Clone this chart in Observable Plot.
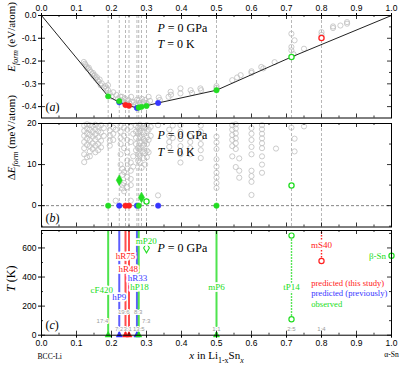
<!DOCTYPE html>
<html>
<head>
<meta charset="utf-8">
<script src="https://cdn.jsdelivr.net/npm/d3@7"></script>
<script src="https://cdn.jsdelivr.net/npm/@observablehq/plot@0.6"></script>
<style>
  html, body { margin: 0; padding: 0; background: #fff; }
  #chart { position: relative; width: 399px; height: 366px; overflow: hidden; background:#fff; }
  #chart svg { position: absolute; left: 0; top: 0; }
</style>
</head>
<body>
<div id="chart"></div>
<script>
// ---------------- data ----------------
const xTicks = [0, 0.1, 0.2, 0.3, 0.4, 0.5, 0.6, 0.7, 0.8, 0.9, 1.0];
const xMinor = [0.05, 0.15, 0.25, 0.35, 0.45, 0.55, 0.65, 0.75, 0.85, 0.95];
const aTicks = [0, -0.1, -0.2, -0.3, -0.4];
const aMinor = [-0.05, -0.15, -0.25, -0.35];
const bTicks = [0, 10, 20];
const bMinor = [-5, 5, 15];
const cTicks = [0, 200, 400, 600];
const cMinor = [100, 300, 500, 700];

// compositions with dashed guide lines (x in Li1-xSnx)
const compX = [0.1905, 0.2222, 0.24, 0.25, 0.2727, 0.2778, 0.2857, 0.3, 0.5, 0.7143, 0.8];

// convex hull, panel (a)
const hullX = [0, 0.1905, 0.2222, 0.24, 0.25, 0.2727, 0.3333, 0.5, 0.7143, 1.0];
const hullE = [0, -0.355, -0.381, -0.393, -0.396, -0.406, -0.384, -0.328, -0.182, 0];

// coloured structures, panel (a)
const aMarkX = [0.1905, 0.2222, 0.2222, 0.24, 0.25, 0.2727, 0.2778, 0.2857, 0.3, 0.3333, 0.5, 0.7143, 0.8];
const aMarkE = [-0.355, -0.376, -0.381, -0.393, -0.396, -0.406, -0.404, -0.401, -0.397, -0.384, -0.328, -0.182, -0.099];
const aMarkSrc = ["obs", "obs", "prev", "this", "this", "prev", "obs", "obs", "obs", "prev", "obs", "obs", "this"];
const aMarkOpen = [false, false, false, false, false, false, false, false, false, false, false, true, true];

// other sampled structures, panel (a): [x, E]
const greyA = [
  [0.121,-0.204],[0.124,-0.212],[0.126,-0.218],[0.129,-0.226],[0.132,-0.233],[0.135,-0.229],[0.138,-0.240],
  [0.141,-0.248],[0.145,-0.258],[0.147,-0.252],[0.149,-0.266],[0.152,-0.262],[0.155,-0.276],[0.158,-0.271],
  [0.160,-0.284],[0.163,-0.290],[0.166,-0.281],[0.169,-0.306],[0.172,-0.298],[0.178,-0.316],[0.182,-0.310],
  [0.185,-0.320],[0.190,-0.306],[0.190,-0.328],[0.195,-0.342],[0.200,-0.356],[0.205,-0.337],[0.214,-0.349],
  [0.219,-0.364],[0.225,-0.356],[0.229,-0.372],[0.230,-0.357],[0.235,-0.380],[0.238,-0.364],[0.242,-0.386],
  [0.245,-0.375],[0.248,-0.371],[0.252,-0.387],[0.256,-0.357],[0.258,-0.380],[0.264,-0.380],[0.268,-0.392],
  [0.273,-0.370],[0.275,-0.395],[0.278,-0.373],[0.282,-0.384],[0.287,-0.366],[0.290,-0.380],[0.296,-0.371],
  [0.300,-0.383],[0.306,-0.357],[0.310,-0.375],[0.335,-0.360],[0.338,-0.371],[0.363,-0.357],[0.369,-0.335],
  [0.370,-0.348],[0.397,-0.320],[0.397,-0.342],[0.426,-0.328],[0.430,-0.340],[0.454,-0.320],[0.456,-0.328],
  [0.500,-0.310],[0.500,-0.318],[0.545,-0.284],[0.559,-0.272],[0.569,-0.262],[0.600,-0.252],[0.600,-0.245],
  [0.628,-0.226],[0.634,-0.232],[0.666,-0.205],[0.714,-0.153],[0.714,-0.138],[0.714,-0.080],[0.723,-0.109],
  [0.720,-0.170],[0.750,-0.146],[0.800,-0.073],[0.800,-0.085],[0.833,-0.048],[0.833,-0.055],[0.854,-0.044],
  [0.873,-0.029],[0.873,-0.036]
];

// coloured structures, panel (b)
const bMarkX = [0.1905, 0.2222, 0.24, 0.25, 0.2727, 0.2778, 0.3333, 0.5, 0.2222, 0.2857, 0.3, 0.7143];
const bMarkD = [0, 0, 0, 0, 0, 0, 0, 0, 6.2, 2.0, 1.0, 4.9];
const bMarkSrc = ["obs", "prev", "this", "this", "prev", "obs", "prev", "obs", "obs", "obs", "obs", "obs"];
const bMarkShape = ["dot", "dot", "dot", "dot", "dot", "dot", "dot", "dot", "diamond", "diamond", "open", "open"];

// other sampled structures, panel (b): [x, [dE values in meV/atom]]
const greyB = [
  [0.122,[19.5,18.2,17.0,15.5,14.0,12.5,10.6]],
  [0.130,[19.8,18.8,17.6,16.3,14.8,11.8]],
  [0.138,[19.6,18.5,17.3,16.0,14.5,13.2,12.0]],
  [0.146,[19.4,18.0,16.8,15.2,13.8]],
  [0.154,[19.7,18.6,17.4,16.1,14.6,13.0]],
  [0.162,[19.2,18.1,16.6,15.0,13.5]],
  [0.170,[19.6,17.8,15.8,14.2]],
  [0.178,[18.9,17.0]],
  [0.195,[19.6,18.3,17.1,15.8,14.6]],
  [0.205,[19.0,17.5,16.0]],
  [0.212,[18.5,1.2]],
  [0.226,[19.5,18.0,16.5,15.0,12.5,10.0]],
  [0.231,[9.0,7.5,5.0,4.2]],
  [0.236,[19.0,17.0,14.0,8.2,5.5,3.5]],
  [0.245,[18.5,16.0,13.0,11.0,9.0,7.0,4.5]],
  [0.255,[19.2,15.5,10.5,8.5,6.5,5.0,1.2]],
  [0.262,[17.5,12.0,9.5]],
  [0.270,[19.5,18.0,16.5,15.0,13.5]],
  [0.276,[19.0,17.5,14.0,12.5,11.0]],
  [0.281,[19.7,18.2,16.8,15.3,13.8,12.2,10.5]],
  [0.286,[18.8,17.2,15.6,14.1,9.2]],
  [0.291,[19.4,17.9,16.3,14.8,13.2,11.6]],
  [0.296,[19.0,15.8,12.8,10.0]],
  [0.301,[19.6,18.1,16.6,15.0,13.4,11.8]],
  [0.306,[18.5,16.0,13.0]],
  [0.312,[19.2,17.0]],
  [0.333,[19.6,2.5]],
  [0.365,[18.5,17.0,15.5,14.3]],
  [0.375,[19.5,16.5]],
  [0.397,[19.6,18.0,16.2,14.5,12.5,10.5]],
  [0.425,[17.0,15.5,14.0,12.5]],
  [0.455,[19.5,18.0,16.5,15.0,13.5,11.6]],
  [0.500,[16.8,15.4,13.8,11.3,9.5,8.0,6.8,5.5,4.3]],
  [0.545,[19.6,18.5,17.2,16.0,14.5,12.0]],
  [0.555,[19.8,18.8,17.6,16.4,15.2,13.8,9.4]],
  [0.565,[11.5,8.5,6.8]],
  [0.600,[18.9,17.5,16.0,14.3,12.5,8.5,7.2,5.8,2.6]],
  [0.630,[19.6,18.6,17.5,16.4,15.2,14.0,12.0,10.0,8.0]],
  [0.670,[13.9]],
  [0.714,[19.0]],
  [0.723,[16.3,13.2]],
  [0.750,[19.3]]
];

// panel (c): stability lines
const cLineX = [0.1905, 0.2222, 0.24, 0.25, 0.2727, 0.2778, 0.5];
const cLineSrc = ["obs", "prev", "this", "this", "prev", "obs", "obs"];
// dotted ranges: [x, Tlow, Thigh]
const cRangeX = [0.7143, 0.8];
const cRangeLo = [110, 510];
const cRangeHi = [685, 720];
const cRangeSrc = ["obs", "this"];
// open symbols in (c)
const cOpenX = [0.7143, 0.7143, 0.8, 1.0];
const cOpenT = [110, 685, 510, 546];
const cOpenSrc = ["obs", "obs", "this", "obs"];
const cDiamondX = [0.3];
const cDiamondT = [600];
// phase labels
const cLabel = ["cF420", "hP9", "hR75", "hR48", "hR33", "hP18", "mP6", "tP14", "mS40", "mP20", "β-Sn"];
const cLabelX = [0.172, 0.2222, 0.24, 0.2477, 0.274, 0.28, 0.5, 0.7143, 0.8, 0.299, 0.96];
const cLabelT = [311, 265, 546, 455, 393, 329, 329, 329, 621, 650, 546];
const cLabelSrc = ["obs", "prev", "this", "this", "prev", "obs", "obs", "obs", "this", "obs", "obs"];
// composition ratio labels
const ratioText = ["17:4", "7:2", "19:6", "3:1", "8:3", "13:5", "7:3", "1:1", "2:5", "1:4"];
const ratioX = [0.174, 0.222, 0.235, 0.246, 0.276, 0.278, 0.299, 0.5, 0.714, 0.8];
const ratioT = [96, 39, 160, 39, 160, 39, 96, 39, 39, 39];
// ground-state markers at T = 0
const cBaseX = [0.1905, 0.2222, 0.24, 0.25, 0.2727, 0.2778, 0.5];
const cBaseSrc = ["obs", "prev", "this", "this", "prev", "obs", "obs"];
// legend
const legendText = ["predicted (this study)", "predicted (previously)", "observed"];
const legendSrc = ["this", "prev", "obs"];

// ---------------- style ----------------
const W = 399, H = 366, ML = 41, MR = 8, FW = W - ML - MR;
const SERIF = "'Liberation Serif','Times New Roman',serif";
const SANS = "'Liberation Sans',Arial,sans-serif";
const COL = {this: "#ff2020", prev: "#3535ff", obs: "#22dd22"};
const SRCS = ["this", "prev", "obs"];

function inwardTicks(ph, xMaj, xMin, yMaj, yMin) {
  const st = {stroke: "black", strokeWidth: 0.8};
  const tx = (v, len, side) => Plot.tickX(v, {x: d => d, ...st, [side === "top" ? "insetBottom" : "insetTop"]: ph - len});
  const ty = (v, len, side) => Plot.tickY(v, {y: d => d, ...st, [side === "left" ? "insetRight" : "insetLeft"]: FW - len});
  return [
    tx(xMaj, 4, "top"), tx(xMin, 2, "top"), tx(xMaj, 4, "bottom"), tx(xMin, 2, "bottom"),
    ty(yMaj, 4, "left"), ty(yMin, 2, "left"), ty(yMaj, 4, "right"), ty(yMin, 2, "right")
  ];
}

function panel(top, bottom, yDomain, marks) {
  return Plot.plot({
    width: W, height: H,
    marginLeft: ML, marginRight: MR, marginTop: top, marginBottom: H - bottom,
    x: {domain: [0, 1], axis: null},
    y: {domain: yDomain, axis: null},
    style: {background: "transparent", overflow: "visible", fontFamily: SANS, fontSize: "8.5px", color: "black"},
    marks
  });
}

const condText = (lines, dys) => lines.map((t, i) => Plot.text([t], {
  frameAnchor: "top-left", dx: 116, dy: dys[i], textAnchor: "start", lineAnchor: "middle",
  fontFamily: SERIF, fontSize: 12, fill: "black"
}));
const panelTag = (t, dy) => Plot.text([t], {
  frameAnchor: "bottom-left", dx: 4, dy, textAnchor: "start", lineAnchor: "middle",
  fontFamily: SERIF, fontSize: 12, fill: "black"
});
const yTitle = (t, dy, fs) => Plot.text([t], {
  frameAnchor: "left", dx: -30, dy, rotate: -90, lineAnchor: "middle",
  fontFamily: SERIF, fontSize: fs, fill: "black"
});
const guides = Plot.ruleX(compX, {x: d => d, stroke: "#9a9a9a", strokeWidth: 0.7, strokeDasharray: "3,2"});

// ---------------- panel (a) ----------------
const aPts = aMarkX.map((x, i) => ({x, y: aMarkE[i], src: aMarkSrc[i], open: aMarkOpen[i]}));
const hull = hullX.map((x, i) => ({x, y: hullE[i]}));
const plotA = panel(15, 117.5, [-0.45, 0], [
  guides,
  Plot.dot(greyA, {x: d => d[0], y: d => d[1], r: 2.6, stroke: "#bfbfbf", strokeWidth: 0.8}),
  Plot.line(hull, {x: "x", y: "y", stroke: "#222", strokeWidth: 1}),
  ...SRCS.map(s => Plot.dot(aPts.filter(d => d.src === s && !d.open), {x: "x", y: "y", r: 2.7, fill: COL[s], stroke: COL[s], strokeWidth: 0.6})),
  ...SRCS.map(s => Plot.dot(aPts.filter(d => d.src === s && d.open), {x: "x", y: "y", r: 2.6, fill: "white", stroke: COL[s], strokeWidth: 1.3})),
  ...condText(["P = 0 GPa", "T = 0 K"], [13, 29]),
  panelTag("(a)", -11),
  yTitle("Eform (eV/atom)", 5, 11),
  ...inwardTicks(102.5, xTicks, xMinor, aTicks, aMinor),
  Plot.axisX({anchor: "top", ticks: xTicks, tickSize: 3, tickPadding: 1.5, tickFormat: d => d.toFixed(1), label: null}),
  Plot.axisY({anchor: "left", ticks: aTicks, tickSize: 3, tickPadding: 2, tickFormat: d => d.toFixed(1), label: null}),
  Plot.frame({stroke: "black", strokeWidth: 1})
]);

// ---------------- panel (b) ----------------
const bGrey = greyB.flatMap(([x, vals]) => vals.map(v => ({x, y: v})));
const bPts = bMarkX.map((x, i) => ({x, y: bMarkD[i], src: bMarkSrc[i], shape: bMarkShape[i]}));
const plotB = panel(123, 226.5, [-5.2, 20], [
  guides,
  Plot.ruleY([0], {y: d => d, stroke: "#666", strokeWidth: 0.8, strokeDasharray: "3,2"}),
  Plot.dot(bGrey, {x: "x", y: "y", r: 2.6, stroke: "#bfbfbf", strokeWidth: 0.8}),
  ...SRCS.map(s => Plot.dot(bPts.filter(d => d.src === s && d.shape === "dot"), {x: "x", y: "y", r: 2.7, fill: COL[s], stroke: COL[s], strokeWidth: 0.6})),
  Plot.dot(bPts.filter(d => d.shape === "diamond"), {x: "x", y: "y", r: 3.2, symbol: "diamond", fill: COL.obs, stroke: COL.obs, strokeWidth: 0.6}),
  Plot.dot(bPts.filter(d => d.shape === "open"), {x: "x", y: "y", r: 2.6, fill: "white", stroke: COL.obs, strokeWidth: 1.3}),
  ...condText(["P = 0 GPa", "T = 0 K"], [12, 29]),
  panelTag("(b)", -9),
  yTitle("ΔEform (meV/atom)", 5, 11),
  ...inwardTicks(103.5, xTicks, xMinor, bTicks, bMinor),
  Plot.axisY({anchor: "left", ticks: bTicks, tickSize: 3, tickPadding: 2, tickFormat: d => String(d), label: null}),
  Plot.frame({stroke: "black", strokeWidth: 1})
]);

// ---------------- panel (c) ----------------
const cLines = cLineX.map((x, i) => ({x, src: cLineSrc[i]}));
const cRanges = cRangeX.map((x, i) => ({x, y1: cRangeLo[i], y2: cRangeHi[i], src: cRangeSrc[i]}));
const cOpen = cOpenX.map((x, i) => ({x, y: cOpenT[i], src: cOpenSrc[i]}));
const cLab = cLabel.map((t, i) => ({t, x: cLabelX[i], y: cLabelT[i], src: cLabelSrc[i]}));
const cRatio = ratioText.map((t, i) => ({t, x: ratioX[i], y: ratioT[i]}));
const cBase = cBaseX.map((x, i) => ({x, src: cBaseSrc[i]}));
const plotC = panel(230, 334.7, [0, 720], [
  ...SRCS.map(s => Plot.ruleX(cLines.filter(d => d.src === s), {x: "x", stroke: COL[s], strokeWidth: 2, strokeOpacity: 0.8})),
  ...SRCS.map(s => Plot.ruleX(cRanges.filter(d => d.src === s), {x: "x", y1: "y1", y2: "y2", stroke: COL[s], strokeWidth: 1.4, strokeDasharray: "1.5,1.5"})),
  ...SRCS.map(s => Plot.dot(cOpen.filter(d => d.src === s), {x: "x", y: "y", r: 2.6, fill: "white", stroke: COL[s], strokeWidth: 1.2})),
  Plot.dot(cDiamondX.map((x, i) => ({x, y: cDiamondT[i]})), {x: "x", y: "y", r: 3, symbol: "diamond", fill: "white", stroke: COL.obs, strokeWidth: 1.1}),
  Plot.text(cRatio, {x: "x", y: "y", text: "t", fill: "#9a9a9a", stroke: "white", strokeWidth: 2, fontFamily: SANS, fontSize: 6, lineAnchor: "middle"}),
  ...SRCS.map(s => Plot.text(cLab.filter(d => d.src === s), {x: "x", y: "y", text: "t", fill: COL[s], stroke: "white", strokeWidth: 3.5, fontFamily: SERIF, fontSize: 9, lineAnchor: "middle"})),
  ...SRCS.map(s => Plot.dot(cBase.filter(d => d.src === s), {x: "x", y: () => 0, r: 2.3, symbol: "triangle", fill: COL[s], stroke: COL[s], strokeWidth: 0.5})),
  ...legendText.map((t, i) => Plot.text([t], {
    frameAnchor: "top-left", dx: 269.7, dy: 52.7 + i * 10.5, textAnchor: "start", lineAnchor: "middle",
    fontFamily: SERIF, fontSize: 8.6, fill: COL[legendSrc[i]]
  })),
  ...condText(["P = 0 GPa"], [18]),
  panelTag("(c)", -10),
  yTitle("T (K)", 9, 12),
  Plot.text(["x in Li1-xSnx"], {frameAnchor: "bottom", dy: 20.5, lineAnchor: "middle", fontFamily: SERIF, fontSize: 11, fill: "black"}),
  Plot.text(["BCC-Li"], {frameAnchor: "bottom-left", dx: -4, dy: 21.5, textAnchor: "start", lineAnchor: "middle", fontFamily: SERIF, fontSize: 7.6, fill: "black"}),
  Plot.text(["α-Sn"], {frameAnchor: "bottom-right", dy: 19, textAnchor: "middle", lineAnchor: "middle", fontFamily: SERIF, fontSize: 7.6, fill: "black"}),
  ...inwardTicks(104.7, xTicks, xMinor, cTicks, cMinor),
  Plot.axisX({anchor: "bottom", ticks: xTicks, tickSize: 3, tickPadding: 2, tickFormat: d => d.toFixed(1), label: null}),
  Plot.axisY({anchor: "left", ticks: cTicks, tickSize: 3, tickPadding: 2, tickFormat: d => String(d), label: null}),
  Plot.frame({stroke: "black", strokeWidth: 1})
]);

const host = document.getElementById("chart");
[plotA, plotB, plotC].forEach(p => host.appendChild(p));

// ---------------- rich text (italics / subscripts) ----------------
const rich = {
  "P = 0 GPa": [["P", "i"], [" = 0 GPa", ""]],
  "T = 0 K": [["T", "i"], [" = 0 K", ""]],
  "(a)": [["(", ""], ["a", "i"], [")", ""]],
  "(b)": [["(", ""], ["b", "i"], [")", ""]],
  "(c)": [["(", ""], ["c", "i"], [")", ""]],
  "Eform (eV/atom)": [["E", "i"], ["form", "is"], [" (eV/atom)", ""]],
  "ΔEform (meV/atom)": [["Δ", ""], ["E", "i"], ["form", "is"], [" (meV/atom)", ""]],
  "T (K)": [["T", "i"], [" (K)", ""]],
  "x in Li1-xSnx": [["x", "i"], [" in Li", ""], ["1-x", "s"], ["Sn", ""], ["x", "is"]]
};
[plotA, plotB, plotC].forEach(svg => {
  d3.select(svg).selectAll("text").each(function () {
    const parts = rich[this.textContent];
    if (!parts) return;
    const fs = parseFloat(getComputedStyle(this).fontSize) || 12;
    const sel = d3.select(this);
    sel.text(null);
    let shift = 0;
    for (const [s, st] of parts) {
      const ts = sel.append("tspan").text(s);
      if (st.includes("i")) ts.attr("font-style", "italic");
      const sub = st.includes("s");
      const target = sub ? fs * 0.3 : 0;
      if (target !== shift) { ts.attr("dy", target - shift); shift = target; }
      if (sub) ts.attr("font-size", fs * 0.72);
    }
  });
});
</script>
</body>
</html>
